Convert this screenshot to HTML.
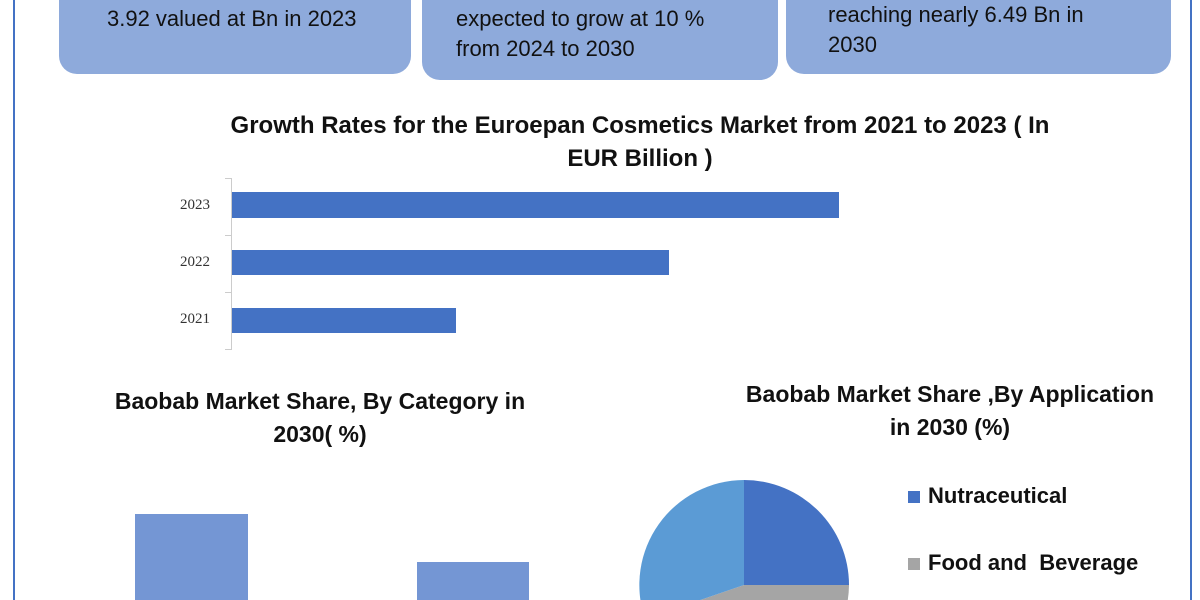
<!DOCTYPE html><html><head><style>
html,body{margin:0;width:1200px;height:600px;overflow:hidden}
body{background:#fff;position:relative;font-family:"Liberation Sans",sans-serif}
.vl{position:absolute;top:0;height:600px;width:2px;background:#4472c4}
.box{position:absolute;background:#8eaadb;border-radius:0 0 18px 18px;font-size:22px;color:#111;line-height:30px;white-space:nowrap}
.t{position:absolute;font-weight:bold;font-size:24px;color:#111;text-align:center;line-height:33px}
.lab{position:absolute;font-family:"Liberation Serif",serif;font-size:15px;color:#333;width:50px;text-align:right}
.bar{position:absolute;background:#4472c4}
</style></head><body>
<div class="vl" style="left:13px"></div><div class="vl" style="left:1190px"></div>
<div class="box" style="left:59px;top:0;width:352px;height:74px"><div style="position:absolute;left:48px;top:4px">3.92 valued at Bn in 2023</div></div>
<div class="box" style="left:422px;top:0;width:356px;height:80px"><div style="position:absolute;left:34px;top:4px">expected to grow at 10 %<br>from 2024 to 2030</div></div>
<div class="box" style="left:786px;top:0;width:385px;height:74px"><div style="position:absolute;left:42px;top:0px">reaching nearly 6.49 Bn in<br>2030</div></div>
<div class="t" style="left:190px;top:109px;width:900px">Growth Rates for the Euroepan Cosmetics Market from 2021 to 2023 ( In<br>EUR Billion )</div>
<div style="position:absolute;left:231px;top:178px;width:1px;height:172px;background:#ccc"></div>
<div style="position:absolute;left:225px;top:178px;width:6px;height:1px;background:#ccc"></div>
<div style="position:absolute;left:225px;top:235px;width:6px;height:1px;background:#ccc"></div>
<div style="position:absolute;left:225px;top:292px;width:6px;height:1px;background:#ccc"></div>
<div style="position:absolute;left:225px;top:349px;width:6px;height:1px;background:#ccc"></div>
<div class="lab" style="left:160px;top:197px">2023</div>
<div class="lab" style="left:160px;top:254px">2022</div>
<div class="lab" style="left:160px;top:311px">2021</div>
<div class="bar" style="left:232px;top:192px;width:607px;height:26px"></div>
<div class="bar" style="left:232px;top:250px;width:437px;height:25px"></div>
<div class="bar" style="left:232px;top:308px;width:224px;height:25px"></div>
<div class="t" style="left:70px;top:385px;width:500px;font-size:23px">Baobab Market Share, By Category in<br>2030( %)</div>
<div class="t" style="left:715px;top:378px;width:470px;font-size:23px">Baobab Market Share ,By Application<br>in 2030 (%)</div>
<div style="position:absolute;left:135px;top:514px;width:113px;height:86px;background:#7496d4"></div>
<div style="position:absolute;left:417px;top:562px;width:112px;height:38px;background:#7496d4"></div>
<svg style="position:absolute;left:0;top:0" width="1200" height="600">
<path d="M744 585 L744 480 A105 105 0 0 1 849 585 Z" fill="#4472c4"/>
<path d="M744 585 L849 585 A105 105 0 0 1 645 619 Z" fill="#a5a5a5"/>
<path d="M744 585 L645 619 A105 105 0 0 1 744 480 Z" fill="#5b9bd5"/>
<rect x="908" y="491" width="12" height="12" fill="#4472c4"/>
<rect x="908" y="558" width="12" height="12" fill="#a5a5a5"/>
</svg>
<div style="position:absolute;left:928px;top:483px;font-weight:bold;font-size:22px;color:#111">Nutraceutical</div>
<div style="position:absolute;left:928px;top:550px;font-weight:bold;font-size:22px;color:#111;white-space:pre">Food and  Beverage</div>
</body></html>
